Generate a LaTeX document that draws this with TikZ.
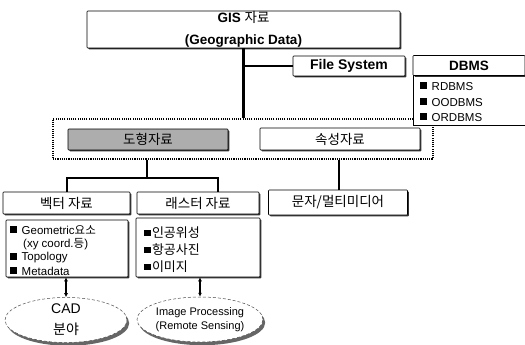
\documentclass[tikz,border=0pt]{standalone}
\usepackage{fontspec}
\setmainfont{Liberation Sans}
\newfontfamily\kr{Noto Sans CJK KR}
\usetikzlibrary{shapes.geometric,shadows,arrows.meta}
\newcommand{\bsq}{\rule[0.12em]{0.6em}{0.6em}\hspace{0.4em}}
\begin{document}
\begin{tikzpicture}[x=1pt,y=-1pt,
  box/.style={draw, line width=0.6pt, fill=white, rounded corners=0.8pt, inner sep=0pt,
    drop shadow={shadow xshift=1.3pt, shadow yshift=-1.3pt, fill=black!80, opacity=1}},
  conn/.style={line width=2.6pt},
  dbl/.style={{Latex[length=4pt,width=4pt]}-{Latex[length=4pt,width=4pt]}, line width=1.2pt},
  oval/.style={ellipse, draw=black!70, densely dashed, line width=0.5pt, fill=white, inner sep=0pt,
    drop shadow={shadow xshift=2.2pt, shadow yshift=-3.2pt, fill=black!60, opacity=1}},
  item/.style={anchor=west, inner sep=0pt},
  lbl/.style={font=\kr\fontsize{13.5}{15}\selectfont}
]
\useasboundingbox (0,0) rectangle (525,345);

% top box
\node[box, minimum width=313pt, minimum height=37pt, align=center,
  font=\bfseries\fontsize{13.5}{22}\selectfont] (gis) at (243.5,29.5)
  {GIS {\kr\mdseries 자료}\\(Geographic Data)};

\node[box, minimum width=112pt, minimum height=20pt, font=\bfseries\fontsize{14}{15}\selectfont]
  (fs) at (349,66) {File System};

% outer dotted group
\node[draw, line width=1.1pt, dash pattern=on 1.1pt off 1.1pt, minimum width=380pt, minimum height=40pt, inner sep=0pt]
  (grp) at (243,139) {};

% DBMS
\node[fill=white, minimum width=112pt, minimum height=50pt, inner sep=0pt] (dbl) at (469,100.5) {};
\draw[line width=0.6pt] (dbl.north west) -- (dbl.south west) -- (dbl.south east);
\node[box, minimum width=112pt, minimum height=20pt, font=\bfseries\fontsize{13.5}{15}\selectfont]
  (dbms) at (469,65.5) {DBMS};
\node[item, font=\fontsize{11.5}{12}\selectfont] (d1) at (420,86.5) {\bsq RDBMS};
\node[item, font=\fontsize{11.5}{12}\selectfont] (d2) at (420,102) {\bsq OODBMS};
\node[item, font=\fontsize{11.5}{12}\selectfont] (d3) at (420,117.5) {\bsq ORDBMS};

% inner boxes of group
\node[box, fill=black!32, minimum width=160pt, minimum height=21pt, lbl] (geo) at (148,139.5) {도형자료};
\node[box, minimum width=160pt, minimum height=22pt, lbl] (attr) at (340,139) {속성자료};

% second level
\node[box, minimum width=127pt, minimum height=22pt, lbl] (vec) at (66.5,203) {벡터 자료};
\node[box, minimum width=122pt, minimum height=22pt, lbl] (ras) at (198,203) {래스터 자료};
\node[box, minimum width=139pt, minimum height=25pt, lbl] (mm) at (338,202.5) {문자/멀티미디어};

% lists
\node[box, minimum width=122pt, minimum height=57pt] (vl) at (67,248.5) {};
\node[box, minimum width=124pt, minimum height=59pt] (rl) at (198,247.5) {};

\node[item, font=\fontsize{11.5}{12}\selectfont] (v1) at (10,230) {\bsq Geometric{\kr 요소}};
\node[item, font=\fontsize{11.5}{12}\selectfont] (v2) at (23,244) {(xy coord.{\kr 등})};
\node[item, font=\fontsize{11.5}{12}\selectfont] (v3) at (10,258) {\bsq Topology};
\node[item, font=\fontsize{11.5}{12}\selectfont] (v4) at (10,271.5) {\bsq Metadata};

\node[item, font=\kr\fontsize{13}{14}\selectfont] (r1) at (144,233) {\rule[0.12em]{0.5em}{0.5em}\hspace{0.1em}인공위성};
\node[item, font=\kr\fontsize{13}{14}\selectfont] (r2) at (144,250) {\rule[0.12em]{0.5em}{0.5em}\hspace{0.1em}항공사진};
\node[item, font=\kr\fontsize{13}{14}\selectfont] (r3) at (144,267) {\rule[0.12em]{0.5em}{0.5em}\hspace{0.1em}이미지};

% ellipses
\node[oval, minimum width=122pt, minimum height=45pt, align=center,
  font=\fontsize{14}{21}\selectfont] (cad) at (66,320) {CAD\\{\kr 분야}};
\node[oval, minimum width=126pt, minimum height=45pt, align=center,
  font=\fontsize{11}{13.5}\selectfont] (ip) at (200,319.5) {Image Processing\\(Remote Sensing)};

% connectors
\draw[conn] (gis.south) -- (gis.south |- grp.north);
\draw[conn] (gis.south |- fs.west) -- (fs.west);

\coordinate (jm) at (147,178);
\coordinate (jl) at (67,178);
\coordinate (jr) at (218,178);
\draw[conn] (grp.south -| jm) -- (jm);
\draw[conn, line join=miter] (jl |- vec.north) -- (jl) -- (jr) -- (jr |- ras.north);
\draw[conn] (grp.south -| 339,0) -- (mm.north -| 339,0);

\draw[dbl] (vl.south -| cad.north) -- (cad.north);
\draw[dbl] (rl.south -| ip.north) -- (ip.north);
\end{tikzpicture}
\end{document}
